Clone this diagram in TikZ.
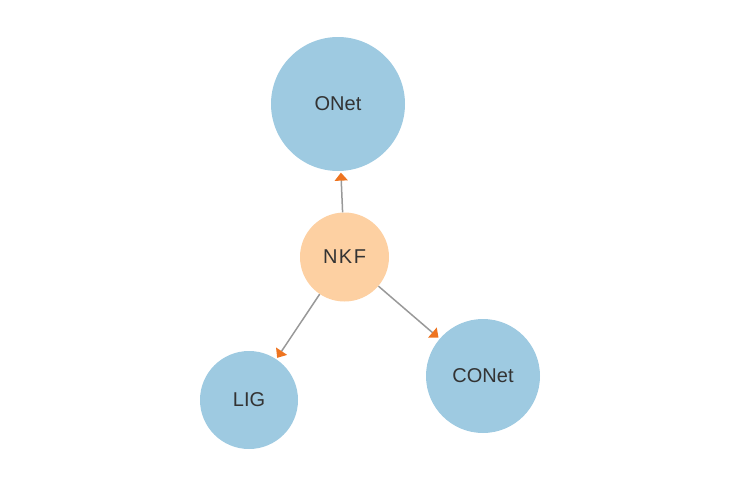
\documentclass[tikz,border=0pt]{standalone}
\usepackage{fontspec}
\setmainfont{Liberation Sans}
\usetikzlibrary{arrows.meta}
\definecolor{nblue}{HTML}{9ECAE1}
\definecolor{norange}{HTML}{FDD0A2}
\definecolor{arr}{HTML}{EE7420}
\definecolor{edge}{HTML}{999999}
\definecolor{txt}{HTML}{333333}
\begin{document}
\begin{tikzpicture}[x=1pt,y=-1pt,
  nd/.style={circle,inner sep=0pt,text=txt,font=\fontsize{20}{24}\selectfont},
  bluenode/.style={nd,fill=nblue},
  orangenode/.style={nd,fill=norange},
  link/.style={draw=edge,line width=1.5pt,-{Triangle[length=8pt,width=13pt,color=arr]},shorten >=1.5pt}]
\useasboundingbox (0,0) rectangle (742,482);
\node[bluenode,minimum size=134pt] (onet) at (338,104) {ONet};
\node[orangenode,minimum size=89pt] (nkf) at (344.5,257) {N\kern1.5pt K\kern1.5pt F};
\node[bluenode,minimum size=98pt] (lig) at (249,400) {LIG};
\node[bluenode,minimum size=114pt] (conet) at (483,376) {CONet};
\draw[link] (nkf) -- (onet);
\draw[link] (nkf) -- (lig);
\draw[link] (nkf) -- (conet);
\end{tikzpicture}
\end{document}
